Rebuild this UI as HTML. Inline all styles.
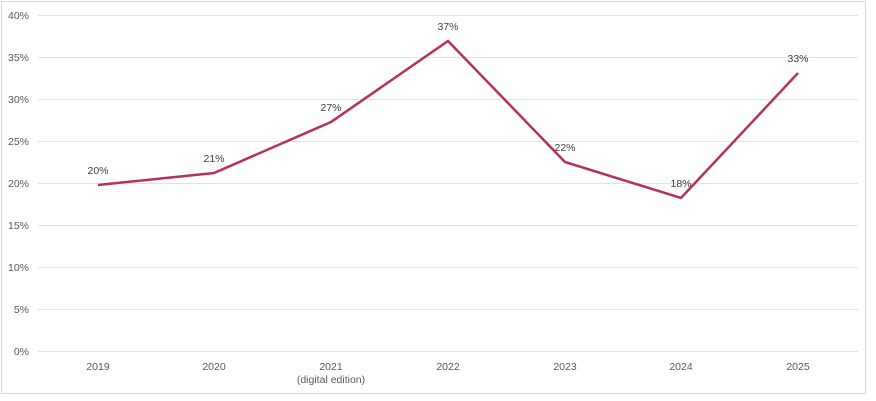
<!DOCTYPE html>
<html><head><style>
body{margin:0;background:#fff;}
svg{display:block;font-family:"Liberation Sans",Arial,sans-serif;}
</style></head><body>
<svg width="876" height="401" viewBox="0 0 876 401">
<rect x="1.5" y="1.5" width="864" height="392" fill="#fff" stroke="#d9d9d9" stroke-width="1"/>
<g stroke="#e3e3e3" stroke-width="1">
<line x1="38" x2="858" y1="15.5" y2="15.5"/>
<line x1="38" x2="858" y1="57.5" y2="57.5"/>
<line x1="38" x2="858" y1="99.5" y2="99.5"/>
<line x1="38" x2="858" y1="141.5" y2="141.5"/>
<line x1="38" x2="858" y1="183.5" y2="183.5"/>
<line x1="38" x2="858" y1="225.5" y2="225.5"/>
<line x1="38" x2="858" y1="267.5" y2="267.5"/>
<line x1="38" x2="858" y1="309.5" y2="309.5"/>
<line x1="38" x2="858" y1="351.5" y2="351.5"/>
</g>
<g fill="#595959" font-size="10.5" text-anchor="end">
<text x="29" y="19">40%</text><text x="29" y="61">35%</text><text x="29" y="103">30%</text>
<text x="29" y="145">25%</text><text x="29" y="187">20%</text><text x="29" y="229">15%</text>
<text x="29" y="271">10%</text><text x="29" y="313">5%</text><text x="29" y="355">0%</text>
</g>
<g fill="#595959" font-size="10.5" text-anchor="middle">
<text x="98" y="370">2019</text><text x="214" y="370">2020</text><text x="331" y="370">2021</text>
<text x="331" y="383">(digital edition)</text>
<text x="448" y="370">2022</text><text x="565" y="370">2023</text><text x="681" y="370">2024</text><text x="798" y="370">2025</text>
</g>
<polyline fill="none" stroke="#b5305f" stroke-width="2.5" stroke-linejoin="miter" points="98,185 214,173 331,122 448,41 565,162 681,198 798,73"/>
<g fill="#404040" font-size="10.5" text-anchor="middle">
<text x="98" y="174">20%</text><text x="214" y="162">21%</text><text x="331" y="111">27%</text>
<text x="448" y="30">37%</text><text x="565" y="151">22%</text><text x="681" y="187">18%</text><text x="798" y="62">33%</text>
</g>
</svg>
</body></html>
